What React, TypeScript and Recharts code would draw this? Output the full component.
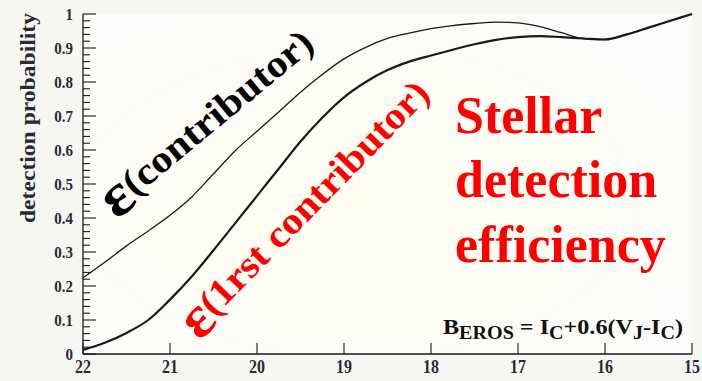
import React from 'react';
import { LineChart, Line, XAxis, YAxis, CartesianGrid } from 'recharts';

// B_EROS magnitude grid (axis runs faint -> bright)
const magnitudes = [
  22, 21.75, 21.5, 21.25, 21, 20.75, 20.5, 20.25, 20, 19.75, 19.5, 19.25, 19, 18.75,
  18.5, 18.25, 18, 17.75, 17.5, 17.25, 17, 16.75, 16.5, 16.25, 16, 15.75, 15.5, 15.25, 15,
];

// efficiency for any contributing star
const contributor = [
  0.224, 0.27, 0.318, 0.362, 0.408, 0.462, 0.53, 0.598, 0.655, 0.712, 0.77, 0.822, 0.868, 0.902,
  0.928, 0.944, 0.957, 0.966, 0.972, 0.976, 0.974, 0.963, 0.945, 0.928, 0.925, 0.94, 0.96, 0.98, 1.0,
];

// efficiency for the first (brightest) contributor
const firstContributor = [
  0.012, 0.033, 0.062, 0.1, 0.16, 0.228, 0.305, 0.385, 0.465, 0.545, 0.625, 0.695, 0.755, 0.8,
  0.835, 0.86, 0.878, 0.895, 0.911, 0.924, 0.932, 0.935, 0.932, 0.928, 0.925, 0.94, 0.96, 0.98, 1.0,
];

const xTicks = [22, 21, 20, 19, 18, 17, 16, 15];
const yMajorTicks = [0, 0.1, 0.2, 0.3, 0.4, 0.5, 0.6, 0.7, 0.8, 0.9, 1];

const data = magnitudes.map((mag, i) => ({
  mag,
  contributor: contributor[i],
  first: firstContributor[i],
}));

// minor ticks every 0.02 between the labelled ones
const yTicks: number[] = [];
yMajorTicks.forEach((t, i) => {
  yTicks.push(t);
  if (i < yMajorTicks.length - 1) {
    for (let k = 1; k < 5; k++) yTicks.push(+(t + k * 0.02).toFixed(2));
  }
});

const SERIF = 'Liberation Serif, Times New Roman, serif';
const INK = '#1a1a1a';
const serifBold = { fontFamily: SERIF, fontWeight: 700 } as const;

const YTick = (props: any) => {
  const { x, y, payload } = props;
  const v = payload.value as number;
  const major = Math.abs(v * 10 - Math.round(v * 10)) < 1e-6;
  const label = v === 0 ? '0' : v === 1 ? '1' : v.toFixed(1);
  return (
    <g>
      <line x1={x} x2={x + (major ? 13 : 7)} y1={y} y2={y} stroke={INK} strokeWidth={1.1} />
      {major && (
        <text
          transform={`translate(${x - 10},${y}) scale(1,1.18)`}
          textAnchor="end"
          dominantBaseline="central"
          style={serifBold}
          fontSize={15}
          fill="#2a2a33"
        >
          {label}
        </text>
      )}
    </g>
  );
};

const XTick = (props: any) => {
  const { x, y, payload } = props;
  return (
    <g>
      <line x1={x} x2={x} y1={y} y2={y - 11} stroke={INK} strokeWidth={1.1} />
      <text
        transform={`translate(${x},${y + 19}) scale(1,1.18)`}
        textAnchor="middle"
        style={serifBold}
        fontSize={16}
        fill="#2a2a33"
      >
        {payload.value}
      </text>
    </g>
  );
};

export default function App() {
  return (
    <div style={{ position: 'absolute', left: 0, top: 0, width: 702, height: 381, background: '#f6f6f3' }}>
      <svg width={0} height={0} style={{ position: 'absolute' }}>
        <defs>
          <radialGradient id="plotBg" cx="45%" cy="55%" r="60%">
            <stop offset="0%" stopColor="#fffff0" />
            <stop offset="100%" stopColor="#fbfbf9" />
          </radialGradient>
        </defs>
      </svg>
      <LineChart width={702} height={381} data={data} margin={{ top: 14, right: 10, bottom: 0, left: 0 }}>
        <CartesianGrid horizontal={false} vertical={false} fill="url(#plotBg)" />
        <XAxis
          dataKey="mag"
          type="number"
          domain={[15, 22]}
          reversed
          ticks={xTicks}
          interval={0}
          height={27}
          tickSize={0}
          tickMargin={0}
          tickLine={false}
          tick={<XTick />}
          axisLine={{ stroke: INK, strokeWidth: 1.3 }}
        />
        <XAxis
          xAxisId="top"
          orientation="top"
          type="number"
          domain={[15, 22]}
          reversed
          height={0}
          tick={false}
          tickLine={false}
          axisLine={{ stroke: INK, strokeWidth: 1.3 }}
        />
        <YAxis
          type="number"
          domain={[0, 1]}
          ticks={yTicks}
          interval={0}
          width={83}
          tickSize={0}
          tickMargin={0}
          tickLine={false}
          tick={<YTick />}
          axisLine={{ stroke: INK, strokeWidth: 1.3 }}
        />
        <YAxis
          yAxisId="right"
          orientation="right"
          type="number"
          domain={[0, 1]}
          width={0}
          tick={false}
          tickLine={false}
          axisLine={{ stroke: INK, strokeWidth: 1.3 }}
        />
        <Line
          type="monotone"
          dataKey="contributor"
          stroke={INK}
          strokeWidth={1.3}
          dot={false}
          isAnimationActive={false}
        />
        <Line
          type="monotone"
          dataKey="first"
          stroke={INK}
          strokeWidth={2.2}
          dot={false}
          isAnimationActive={false}
        />
      </LineChart>

      <svg
        width={702}
        height={381}
        style={{ position: 'absolute', left: 0, top: 0, pointerEvents: 'none', ...serifBold }}
      >
        <text
          transform="translate(35,118) rotate(-90)"
          textAnchor="middle"
          fontSize={20}
          fill="#2a2a33"
          textLength={210}
          lengthAdjust="spacingAndGlyphs"
        >
          detection probability
        </text>

        <g transform="translate(206,121) rotate(-39.6)">
          <text
            textAnchor="middle"
            dominantBaseline="central"
            fontSize={38}
            fill="#000"
            textLength={264}
            lengthAdjust="spacingAndGlyphs"
          >
            <tspan fontSize={60}>ε</tspan>(contributor)
          </text>
        </g>

        <g transform="translate(304,207) rotate(-45.6)">
          <text
            textAnchor="middle"
            dominantBaseline="central"
            fontSize={38}
            fill="#ff0000"
            textLength={338}
            lengthAdjust="spacingAndGlyphs"
          >
            <tspan fontSize={58}>ε</tspan>(1rst contributor)
          </text>
        </g>

        <g fill="#ff0000" fontSize={52}>
          <text x={455} y={133}>Stellar</text>
          <text x={455} y={197}>detection</text>
          <text x={455} y={262}>efficiency</text>
        </g>

        <g transform="translate(443,334) scale(1,1.2)">
          <text x={0} y={0} fontSize={18} fill="#111" textLength={240} lengthAdjust="spacingAndGlyphs">
            B<tspan fontSize={15} dy={4}>EROS</tspan>
            <tspan dy={-4}> = I</tspan>
            <tspan fontSize={15} dy={4}>C</tspan>
            <tspan dy={-4}>+0.6(V</tspan>
            <tspan fontSize={15} dy={4}>J</tspan>
            <tspan dy={-4}>-I</tspan>
            <tspan fontSize={15} dy={4}>C</tspan>
            <tspan dy={-4}>)</tspan>
          </text>
        </g>
      </svg>
    </div>
  );
}
